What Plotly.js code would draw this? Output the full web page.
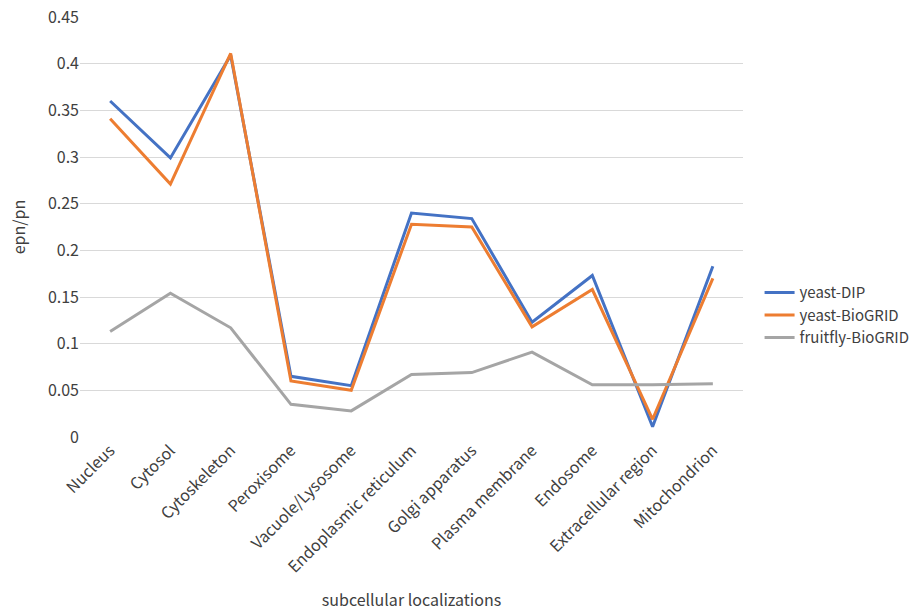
<!DOCTYPE html>
<html><head><meta charset="utf-8">
<script src="https://cdn.plot.ly/plotly-3.0.1.min.js"></script>
<style>html,body{margin:0;padding:0;background:#fff}#c{width:919px;height:613px}</style>
</head><body><div id="c"></div>
<script>
const categories = ["Nucleus","Cytosol","Cytoskeleton","Peroxisome","Vacuole/Lysosome","Endoplasmic reticulum","Golgi apparatus","Plasma membrane","Endosome","Extracellular region","Mitochondrion"];
const yeastDIP = [0.360,0.299,0.409,0.065,0.055,0.240,0.234,0.123,0.173,0.011,0.183];
const yeastBioGRID = [0.341,0.271,0.411,0.060,0.050,0.228,0.225,0.118,0.158,0.019,0.170];
const fruitflyBioGRID = [0.113,0.154,0.117,0.035,0.028,0.067,0.069,0.091,0.056,0.056,0.057];
const yTicks = [0,0.05,0.1,0.15,0.2,0.25,0.3,0.35,0.4,0.45];
const yTickText = ["0","0.05","0.1","0.15","0.2","0.25","0.3","0.35","0.4","0.45"];

const F = '"Noto Sans CJK SC", "Noto Sans", sans-serif';
const mk = (name, y, color) => ({type:'scatter', mode:'lines', name, x:categories, y, line:{color, width:3}});
const data = [
  mk('yeast-DIP', yeastDIP, '#4472C4'),
  mk('yeast-BioGRID', yeastBioGRID, '#ED7D31'),
  mk('fruitfly-BioGRID', fruitflyBioGRID, '#A5A5A5')
];
const layout = {
  width:919, height:613,
  margin:{l:80, r:176, t:17, b:176, autoexpand:false},
  paper_bgcolor:'#fff', plot_bgcolor:'#fff',
  font:{family:F, size:15, color:'#595959'},
  showlegend:true,
  legend:{x:1.025, xanchor:'left', y:0.29, yanchor:'middle', font:{family:F, size:15, color:'#404040'}, tracegroupgap:0, itemwidth:30},
  xaxis:{type:'category', range:[-0.5,10.5], tickangle:-45, showgrid:false, zeroline:false, showline:false, ticks:'', automargin:false,
    tickfont:{family:F, size:16, color:'#404040'},
    title:{text:'subcellular localizations', font:{family:F, size:16, color:'#404040'}, standoff:18}},
  yaxis:{range:[0,0.45], tickvals:yTicks, ticktext:yTickText, showgrid:true, gridcolor:'#d9d9d9', gridwidth:1, zeroline:false, showline:false, ticks:'', automargin:false,
    tickfont:{family:F, size:16, color:'#404040'},
    title:{text:'epn/pn', font:{family:F, size:16, color:'#404040'}, standoff:18}}
};
Plotly.newPlot('c', data, layout, {displayModeBar:false, staticPlot:true});
</script></body></html>
